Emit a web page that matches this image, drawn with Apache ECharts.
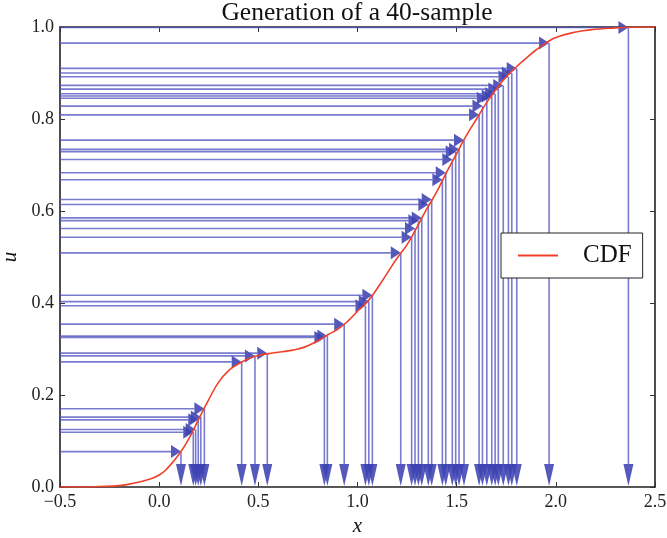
<!DOCTYPE html>
<html>
<head>
<meta charset="utf-8">
<script src="https://cdn.jsdelivr.net/npm/echarts@6/dist/echarts.min.js"></script>
<style>html,body{margin:0;padding:0;background:#fff}#c{width:667px;height:538px}</style>
</head>
<body>
<div id="c"></div>
<script>
// ---- data ----
const titleText = 'Generation of a 40-sample';
const xTickLabels = ['\u22120.5', '0.0', '0.5', '1.0', '1.5', '2.0', '2.5'];
const yTickLabels = ['0.0', '0.2', '0.4', '0.6', '0.8', '1.0'];

// CDF curve
const cdfX = [-0.5, -0.4, -0.3, -0.2, -0.13, -0.05, 0.0, 0.04, 0.1, 0.15, 0.2, 0.25, 0.3, 0.35, 0.4, 0.45,
  0.5, 0.55, 0.6, 0.65, 0.7, 0.75, 0.8, 0.85, 0.9, 0.95, 1.0, 1.05, 1.1, 1.15, 1.2, 1.25, 1.3, 1.35,
  1.4, 1.45, 1.5, 1.55, 1.6, 1.65, 1.7, 1.75, 1.8, 1.85, 1.9, 1.95, 2.0, 2.1, 2.2, 2.3, 2.4, 2.5];
const cdfU = [0.0, 0.0, 0.001, 0.003, 0.008, 0.017, 0.026, 0.04, 0.071, 0.105, 0.148, 0.19, 0.228, 0.253, 0.268, 0.279,
  0.286, 0.290, 0.293, 0.296, 0.300, 0.307, 0.318, 0.331, 0.343, 0.360, 0.382, 0.403, 0.432, 0.465, 0.498, 0.527, 0.565, 0.605,
  0.642, 0.685, 0.725, 0.765, 0.800, 0.835, 0.865, 0.892, 0.913, 0.932, 0.950, 0.965, 0.977, 0.989, 0.995, 0.998, 1.0, 1.0];

// the 40 samples: uniform draw u and its inverse-CDF image x
const sampleU = [0.077, 0.119, 0.125, 0.146, 0.152, 0.170, 0.272, 0.285, 0.291, 0.325,
  0.328, 0.354, 0.394, 0.403, 0.417, 0.509, 0.543, 0.562, 0.579, 0.585,
  0.614, 0.625, 0.668, 0.683, 0.712, 0.729, 0.734, 0.754, 0.809, 0.828,
  0.845, 0.850, 0.855, 0.865, 0.873, 0.892, 0.900, 0.910, 0.965, 0.999];
const sampleX = [0.110, 0.172, 0.184, 0.197, 0.210, 0.228, 0.416, 0.483, 0.545, 0.833,
  0.848, 0.933, 1.040, 1.057, 1.075, 1.218, 1.273, 1.290, 1.307, 1.324,
  1.357, 1.374, 1.428, 1.445, 1.478, 1.495, 1.512, 1.537, 1.613, 1.630,
  1.652, 1.677, 1.694, 1.710, 1.735, 1.761, 1.778, 1.803, 1.966, 2.366];

// ---- chart ----
const X_MIN = -0.5, X_MAX = 2.5, X_INT = 0.5;
const Y_MIN = 0, Y_MAX = 1, Y_INT = 0.2;
const SERIF = '"Liberation Serif", "DejaVu Serif", serif';
const LINE_COL = 'rgba(82, 86, 192, 0.78)';
const HEAD_COL = 'rgba(60, 66, 178, 0.88)';
const RED = '#f0402a';

const chart = echarts.init(document.getElementById('c'), null, {renderer: 'canvas'});

const cdfData = cdfX.map((x, i) => [x, cdfU[i]]);
const sampleData = sampleX.map((x, i) => [x, sampleU[i]]);

function xLab(v) { return xTickLabels[Math.round((v - X_MIN) / X_INT)] || ''; }
function yLab(v) { return yTickLabels[Math.round((v - Y_MIN) / Y_INT)] || ''; }

function renderArrow(params, api) {
  const x = api.value(0), u = api.value(1);
  const p = api.coord([x, u]);
  const p0 = api.coord([X_MIN, u]);
  const pb = api.coord([x, Y_MIN]);
  const HL = 10, HW = 6.5, VL = 23, VW = 5;
  const ls = {stroke: LINE_COL, lineWidth: 1.6};
  const hs = {fill: HEAD_COL, stroke: null};
  return {
    type: 'group',
    children: [
      {type: 'line', shape: {x1: p0[0], y1: p[1], x2: p[0] - HL, y2: p[1]}, style: ls},
      {type: 'polygon', shape: {points: [[p[0] - HL, p[1] - HW], [p[0], p[1]], [p[0] - HL, p[1] + HW]]}, style: hs},
      {type: 'line', shape: {x1: p[0], y1: p[1], x2: p[0], y2: pb[1] - VL}, style: ls},
      {type: 'polygon', shape: {points: [[p[0] - VW, pb[1] - VL], [p[0], pb[1] - 1], [p[0] + VW, pb[1] - VL]]}, style: hs}
    ]
  };
}

const tickCommon = {show: true, inside: true, length: 5, lineStyle: {color: '#333', width: 1}};
const axisLineCommon = {show: true, onZero: false, lineStyle: {color: '#222', width: 1.6}};

chart.setOption({
  animation: false,
  backgroundColor: '#fff',
  title: {
    text: titleText, left: 357, top: 0, textAlign: 'center', padding: 0,
    textStyle: {fontFamily: SERIF, fontSize: 25.5, fontWeight: 'normal', color: '#111'}
  },
  grid: {left: 60, right: 12, top: 27, bottom: 51, containLabel: false, outerBoundsMode: 'none'},
  legend: {
    data: [{name: 'CDF', icon: 'rect'}], left: 501, top: 233, orient: 'vertical',
    padding: [10, 11, 10, 17], itemWidth: 40, itemHeight: 1.8,
    borderColor: '#222', borderWidth: 1, backgroundColor: '#fff', borderRadius: 0,
    textStyle: {fontFamily: SERIF, fontSize: 25, color: '#111', padding: [0, 0, 0, 20]}
  },
  xAxis: [
    {type: 'value', min: X_MIN, max: X_MAX, interval: X_INT, position: 'bottom',
     name: 'x', nameLocation: 'middle', nameGap: 24,
     nameTextStyle: {fontFamily: SERIF, fontStyle: 'italic', fontSize: 21, color: '#111'},
     axisLine: axisLineCommon, axisTick: tickCommon, splitLine: {show: false},
     axisLabel: {formatter: xLab, fontFamily: SERIF, fontSize: 18, color: '#222', margin: 6}},
    {type: 'value', min: X_MIN, max: X_MAX, interval: X_INT, position: 'top',
     axisLine: axisLineCommon, axisTick: tickCommon, splitLine: {show: false}, axisLabel: {show: false}}
  ],
  yAxis: [
    {type: 'value', min: Y_MIN, max: Y_MAX, interval: Y_INT, position: 'left',
     name: 'u', nameLocation: 'middle', nameGap: 36, nameRotate: 90,
     nameTextStyle: {fontFamily: SERIF, fontStyle: 'italic', fontSize: 21, color: '#111'},
     axisLine: axisLineCommon, axisTick: tickCommon, splitLine: {show: false},
     axisLabel: {formatter: yLab, fontFamily: SERIF, fontSize: 18, color: '#222', margin: 6}},
    {type: 'value', min: Y_MIN, max: Y_MAX, interval: Y_INT, position: 'right',
     axisLine: axisLineCommon, axisTick: tickCommon, splitLine: {show: false}, axisLabel: {show: false}}
  ],
  series: [
    {type: 'custom', name: 'samples', xAxisIndex: 0, yAxisIndex: 0, renderItem: renderArrow,
     data: sampleData, z: 2, silent: true},
    {type: 'line', name: 'CDF', xAxisIndex: 0, yAxisIndex: 0, data: cdfData,
     smooth: 0.5, symbol: 'none', showSymbol: false,
     lineStyle: {color: RED, width: 1.6}, itemStyle: {color: RED}, z: 3, silent: true}
  ]
});
</script>
</body>
</html>
